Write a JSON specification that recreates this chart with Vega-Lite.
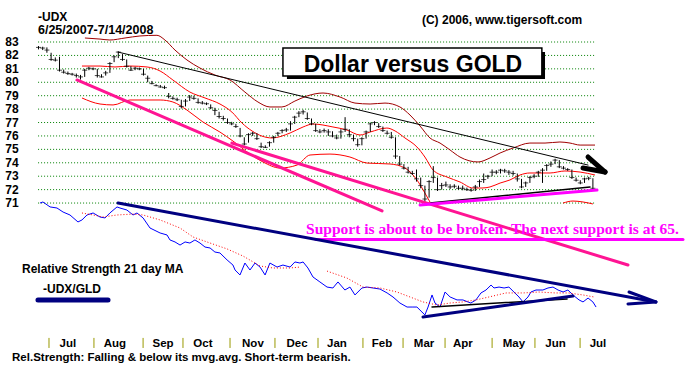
{
"$schema":"https://vega.github.io/schema/vega-lite/v6.json",
"width":696,"height":365,"padding":0,
"autosize":{"type":"fit","contains":"padding"},
"background":"white",
"config":{"view":{"stroke":null}},
"datasets":{
"grid":[{"p":71},{"p":72},{"p":73},{"p":74},{"p":75},{"p":76},{"p":77},{"p":78},{"p":79},{"p":80},{"p":81},{"p":82},{"p":83}],
"rects":[{"d":118.3,"d2":241.2,"p":82.25,"p2":80.24,"kind":"shadow"},{"d":116.4,"d2":239.7,"p":82.55,"p2":80.47,"kind":"box"}],
"bands":[
{"band":"upper","d":22.1,"p":83.30},{"band":"upper","d":29.3,"p":83.22},{"band":"upper","d":34.0,"p":83.15},{"band":"upper","d":41.2,"p":83.30},{"band":"upper","d":48.3,"p":83.45},{"band":"upper","d":56.4,"p":83.5},{"band":"upper","d":60.2,"p":83.15},{"band":"upper","d":65.0,"p":82.40},{"band":"upper","d":70.7,"p":81.66},{"band":"upper","d":76.9,"p":81.06},{"band":"upper","d":84.0,"p":80.54},{"band":"upper","d":91.2,"p":80.17},{"band":"upper","d":98.3,"p":79.27},{"band":"upper","d":104.5,"p":78.53},{"band":"upper","d":110.2,"p":78.16},{"band":"upper","d":115.9,"p":78.16},{"band":"upper","d":122.1,"p":78.60},{"band":"upper","d":127.9,"p":78.98},{"band":"upper","d":135.5,"p":79.20},{"band":"upper","d":143.6,"p":78.90},{"band":"upper","d":150.7,"p":78.45},{"band":"upper","d":157.9,"p":78.38},{"band":"upper","d":165.0,"p":78.45},{"band":"upper","d":172.1,"p":78.16},{"band":"upper","d":176.9,"p":77.56},{"band":"upper","d":181.7,"p":76.74},{"band":"upper","d":186.4,"p":75.85},{"band":"upper","d":191.2,"p":75.47},{"band":"upper","d":196.0,"p":74.95},{"band":"upper","d":200.7,"p":74.43},{"band":"upper","d":209.3,"p":74.06},{"band":"upper","d":215.0,"p":74.36},{"band":"upper","d":219.8,"p":74.73},{"band":"upper","d":226.0,"p":75.10},{"band":"upper","d":234.0,"p":75.47},{"band":"upper","d":241.2,"p":75.47},{"band":"upper","d":248.3,"p":75.55},{"band":"upper","d":253.1,"p":75.47},{"band":"upper","d":257.9,"p":75.32},{"band":"upper","d":265.0,"p":75.32},
{"band":"mid","d":20.7,"p":81.21},{"band":"mid","d":29.3,"p":81.21},{"band":"mid","d":36.4,"p":81.14},{"band":"mid","d":43.6,"p":81.21},{"band":"mid","d":51.7,"p":81.14},{"band":"mid","d":57.9,"p":80.84},{"band":"mid","d":64.0,"p":80.17},{"band":"mid","d":72.1,"p":79.27},{"band":"mid","d":79.3,"p":78.83},{"band":"mid","d":86.4,"p":78.38},{"band":"mid","d":92.1,"p":77.78},{"band":"mid","d":96.9,"p":76.96},{"band":"mid","d":101.7,"p":76.37},{"band":"mid","d":106.4,"p":75.99},{"band":"mid","d":111.2,"p":75.85},{"band":"mid","d":119.8,"p":76.22},{"band":"mid","d":126.0,"p":76.67},{"band":"mid","d":130.7,"p":76.89},{"band":"mid","d":140.2,"p":76.67},{"band":"mid","d":146.9,"p":76.44},{"band":"mid","d":153.1,"p":76.07},{"band":"mid","d":157.9,"p":76.29},{"band":"mid","d":165.9,"p":76.59},{"band":"mid","d":169.8,"p":76.37},{"band":"mid","d":174.5,"p":75.85},{"band":"mid","d":180.2,"p":75.18},{"band":"mid","d":184.0,"p":74.43},{"band":"mid","d":187.9,"p":73.46},{"band":"mid","d":194.5,"p":72.94},{"band":"mid","d":200.7,"p":72.57},{"band":"mid","d":206.9,"p":72.12},{"band":"mid","d":211.2,"p":72.12},{"band":"mid","d":215.0,"p":72.20},{"band":"mid","d":219.8,"p":72.49},{"band":"mid","d":224.5,"p":72.72},{"band":"mid","d":229.3,"p":73.09},{"band":"mid","d":234.0,"p":73.24},{"band":"mid","d":243.6,"p":73.24},{"band":"mid","d":250.7,"p":73.39},{"band":"mid","d":257.9,"p":73.31},{"band":"mid","d":265.0,"p":73.09},
{"band":"lower","d":20.7,"p":78.83},{"band":"lower","d":29.3,"p":78.38},{"band":"lower","d":35.5,"p":78.31},{"band":"lower","d":43.6,"p":78.68},{"band":"lower","d":51.7,"p":78.68},{"band":"lower","d":57.9,"p":78.68},{"band":"lower","d":64.0,"p":78.53},{"band":"lower","d":70.7,"p":77.93},{"band":"lower","d":78.3,"p":77.04},{"band":"lower","d":86.4,"p":76.29},{"band":"lower","d":92.6,"p":75.62},{"band":"lower","d":100.7,"p":74.65},{"band":"lower","d":106.9,"p":74.06},{"band":"lower","d":115.0,"p":73.61},{"band":"lower","d":123.1,"p":73.83},{"band":"lower","d":129.3,"p":74.58},{"band":"lower","d":138.8,"p":74.65},{"band":"lower","d":148.3,"p":74.43},{"band":"lower","d":156.4,"p":73.98},{"band":"lower","d":167.4,"p":73.91},{"band":"lower","d":174.5,"p":73.61},{"band":"lower","d":180.2,"p":72.72},{"band":"lower","d":184.0,"p":71.75},{"band":"lower","d":186.4,"p":71.08},
{"band":"lower2","d":249.8,"p":71.00},{"band":"lower2","d":254.5,"p":71.15},{"band":"lower2","d":259.3,"p":71.08},{"band":"lower2","d":264.0,"p":70.93}
],
"price":[
{"d":0,"c":82.6,"h":82.7,"l":82.45},{"d":2,"c":82.55,"h":82.65,"l":82.4},{"d":4,"c":82.4,"h":82.6,"l":82.2},{"d":6,"c":81.7,"h":82.2,"l":81.6},{"d":8,"c":81.65,"h":81.85,"l":81.55},{"d":10,"c":80.9,"h":81.9,"l":80.8},{"d":12,"c":80.75,"h":80.95,"l":80.65},{"d":14,"c":80.65,"h":80.8,"l":80.55},{"d":16,"c":80.6,"h":80.7,"l":80.5},{"d":18,"c":80.5,"h":80.65,"l":80.35},{"d":20,"c":80.4,"h":80.55,"l":80.2},{"d":22,"c":80.9,"h":81.0,"l":80.4},{"d":24,"c":81.05,"h":81.15,"l":80.9},{"d":26,"c":81.0,"h":81.1,"l":80.9},{"d":28,"c":80.5,"h":81.0,"l":80.35},{"d":30,"c":80.4,"h":80.6,"l":80.35},{"d":32,"c":80.7,"h":80.85,"l":80.5},{"d":34,"c":81.4,"h":81.5,"l":80.7},{"d":36,"c":81.9,"h":82.0,"l":81.5},{"d":38,"c":82.25,"h":82.3,"l":81.8},{"d":40,"c":81.7,"h":82.1,"l":81.6},{"d":42,"c":81.2,"h":81.7,"l":81.1},{"d":44,"c":80.9,"h":81.2,"l":80.85},{"d":46,"c":81.05,"h":81.15,"l":80.9},{"d":48,"c":81.0,"h":81.1,"l":80.9},{"d":50,"c":80.6,"h":81.0,"l":80.5},{"d":52,"c":80.3,"h":80.5,"l":80.0},{"d":54,"c":79.9,"h":80.1,"l":79.85},{"d":56,"c":79.75,"h":79.85,"l":79.7},{"d":58,"c":79.65,"h":79.8,"l":79.6},{"d":60,"c":79.6,"h":79.75,"l":79.5},{"d":62,"c":78.95,"h":79.2,"l":78.8},{"d":64,"c":78.8,"h":78.95,"l":78.7},{"d":66,"c":78.7,"h":78.85,"l":78.6},{"d":68,"c":78.2,"h":78.7,"l":78.05},{"d":70,"c":78.6,"h":78.75,"l":78.2},{"d":72,"c":78.9,"h":79.05,"l":78.6},{"d":74,"c":78.8,"h":79.0,"l":78.7},{"d":76,"c":78.5,"h":78.8,"l":78.4},{"d":78,"c":78.45,"h":78.6,"l":78.35},{"d":80,"c":78.4,"h":78.5,"l":78.3},{"d":82,"c":78.1,"h":78.35,"l":78.0},{"d":84,"c":77.9,"h":78.1,"l":77.55},{"d":86,"c":77.45,"h":77.8,"l":77.3},{"d":88,"c":77.3,"h":77.5,"l":77.15},{"d":90,"c":77.0,"h":77.3,"l":76.9},{"d":92,"c":76.9,"h":77.05,"l":76.8},{"d":94,"c":76.7,"h":76.9,"l":76.6},{"d":96,"c":76.0,"h":76.6,"l":75.9},{"d":98,"c":75.4,"h":75.9,"l":75.3},{"d":100,"c":76.1,"h":76.2,"l":75.5},{"d":102,"c":76.2,"h":76.3,"l":76.0},{"d":104,"c":75.8,"h":76.2,"l":75.7},{"d":106,"c":75.2,"h":75.5,"l":75.1},{"d":108,"c":75.15,"h":75.3,"l":75.1},{"d":110,"c":75.5,"h":75.6,"l":75.2},{"d":112,"c":75.9,"h":76.0,"l":75.5},{"d":114,"c":76.2,"h":76.3,"l":76.0},{"d":116,"c":76.4,"h":76.5,"l":76.2},{"d":118,"c":76.45,"h":76.6,"l":76.3},{"d":120,"c":76.9,"h":77.1,"l":76.4},{"d":122,"c":77.4,"h":77.5,"l":76.9},{"d":124,"c":77.7,"h":77.85,"l":77.4},{"d":126,"c":77.8,"h":77.95,"l":77.6},{"d":128,"c":77.3,"h":77.75,"l":77.2},{"d":130,"c":76.9,"h":77.3,"l":76.8},{"d":132,"c":76.4,"h":76.9,"l":76.3},{"d":134,"c":76.3,"h":76.5,"l":76.2},{"d":136,"c":76.4,"h":76.55,"l":76.25},{"d":138,"c":76.3,"h":76.5,"l":76.0},{"d":140,"c":76.0,"h":76.35,"l":75.9},{"d":142,"c":75.85,"h":76.1,"l":75.75},{"d":144,"c":76.3,"h":76.5,"l":75.8},{"d":146,"c":76.5,"h":77.4,"l":76.3},{"d":148,"c":76.1,"h":76.5,"l":75.9},{"d":150,"c":75.8,"h":76.1,"l":75.6},{"d":152,"c":75.35,"h":75.8,"l":75.2},{"d":154,"c":75.8,"h":75.9,"l":75.3},{"d":156,"c":76.3,"h":76.4,"l":75.8},{"d":158,"c":76.9,"h":77.0,"l":76.3},{"d":160,"c":77.0,"h":77.1,"l":76.8},{"d":162,"c":76.7,"h":76.95,"l":76.6},{"d":164,"c":76.4,"h":76.7,"l":76.3},{"d":166,"c":76.2,"h":76.4,"l":76.1},{"d":168,"c":75.9,"h":76.3,"l":75.8},{"d":170,"c":74.5,"h":75.9,"l":74.3},{"d":172,"c":73.9,"h":74.5,"l":73.8},{"d":174,"c":73.6,"h":73.9,"l":73.5},{"d":176,"c":73.3,"h":73.7,"l":73.2},{"d":178,"c":73.2,"h":73.4,"l":73.1},{"d":180,"c":72.8,"h":73.5,"l":72.6},{"d":182,"c":72.3,"h":72.9,"l":72.1},{"d":184,"c":71.3,"h":72.3,"l":71.1},{"d":186,"c":72.6,"h":72.7,"l":71.4},{"d":188,"c":72.9,"h":73.75,"l":72.5},{"d":190,"c":72.0,"h":72.9,"l":71.9},{"d":192,"c":72.3,"h":72.5,"l":72.0},{"d":194,"c":72.35,"h":72.6,"l":72.2},{"d":196,"c":72.2,"h":72.4,"l":72.05},{"d":198,"c":72.25,"h":72.4,"l":72.1},{"d":200,"c":72.1,"h":72.3,"l":72.0},{"d":202,"c":72.1,"h":72.3,"l":71.95},{"d":204,"c":72.0,"h":72.15,"l":71.9},{"d":206,"c":71.95,"h":72.1,"l":71.85},{"d":208,"c":72.2,"h":72.35,"l":71.9},{"d":210,"c":72.6,"h":72.75,"l":72.2},{"d":212,"c":72.75,"h":73.2,"l":72.5},{"d":214,"c":73.0,"h":73.1,"l":72.8},{"d":216,"c":73.3,"h":73.5,"l":73.0},{"d":218,"c":73.3,"h":73.45,"l":73.15},{"d":220,"c":73.45,"h":73.55,"l":73.2},{"d":222,"c":73.4,"h":73.55,"l":73.25},{"d":224,"c":73.3,"h":73.45,"l":73.1},{"d":226,"c":73.2,"h":73.4,"l":73.05},{"d":228,"c":72.8,"h":73.2,"l":72.6},{"d":230,"c":72.2,"h":72.8,"l":72.1},{"d":232,"c":72.5,"h":72.6,"l":72.2},{"d":234,"c":72.9,"h":73.0,"l":72.5},{"d":236,"c":73.0,"h":73.15,"l":72.85},{"d":238,"c":73.3,"h":73.4,"l":72.95},{"d":240,"c":73.45,"h":73.6,"l":72.5},{"d":242,"c":73.8,"h":73.9,"l":73.4},{"d":244,"c":73.9,"h":74.1,"l":73.7},{"d":246,"c":74.2,"h":74.3,"l":73.9},{"d":248,"c":73.7,"h":74.2,"l":73.6},{"d":250,"c":73.6,"h":73.75,"l":73.5},{"d":252,"c":73.5,"h":73.6,"l":73.4},{"d":254,"c":72.9,"h":73.5,"l":72.8},{"d":256,"c":72.7,"h":72.9,"l":72.6},{"d":258,"c":72.5,"h":72.7,"l":72.4},{"d":260,"c":72.8,"h":72.9,"l":72.5},{"d":262,"c":72.85,"h":72.95,"l":72.7},{"d":264,"c":72.1,"h":72.85,"l":72.0}
],
"lines":[
{"kind":"black","d":37.9,"p":82.25,"d2":261.7,"p2":73.83},
{"kind":"blackarrow","d":261.7,"p":74.43,"d2":269.8,"p2":73.31},
{"kind":"blackarrow","d":259.3,"p":73.61,"d2":269.8,"p2":73.31},
{"kind":"pink","d":18.3,"p":80.17,"d2":163.6,"p2":70.41},
{"kind":"pink","d":92.1,"p":75.47,"d2":280.7,"p2":66.38},
{"kind":"thinblack","d":186.4,"p":71.0,"d2":262.6,"p2":72.2},
{"kind":"magenta","d":181.7,"p":70.85,"d2":265.95,"p2":71.97},
{"kind":"magenta","d":132.1,"p":68.28,"d2":306.9,"p2":68.28},
{"kind":"thinblack","d":187.4,"p":63.26,"d2":251.7,"p2":63.85},
{"kind":"navy","d":37.9,"p":71.0,"d2":294.0,"p2":63.63},
{"kind":"navy","d":281.2,"p":64.37,"d2":294.0,"p2":63.63},
{"kind":"navy","d":280.7,"p":63.48,"d2":294.0,"p2":63.63},
{"kind":"navy","d":183.1,"p":62.51,"d2":254.5,"p2":64.07},
{"kind":"navyleg","d":-0.24,"p":63.78,"d2":33.1,"p2":63.78}
],
"rs":[
{"d":0.7,"p":71.00},{"d":2.1,"p":71.08},{"d":5.5,"p":70.71},{"d":8.8,"p":70.63},{"d":11.7,"p":70.33},{"d":15.0,"p":70.11},{"d":18.8,"p":69.59},{"d":20.7,"p":69.74},{"d":23.1,"p":70.11},{"d":26.0,"p":70.26},{"d":29.3,"p":69.96},{"d":31.7,"p":69.89},{"d":34.0,"p":70.26},{"d":37.4,"p":70.71},{"d":38.8,"p":70.63},{"d":42.1,"p":70.48},{"d":45.0,"p":70.11},{"d":46.9,"p":70.26},{"d":49.8,"p":69.89},{"d":53.1,"p":69.14},{"d":57.9,"p":68.77},{"d":61.2,"p":68.62},{"d":62.6,"p":68.25},{"d":65.0,"p":68.10},{"d":67.4,"p":67.87},{"d":69.8,"p":68.10},{"d":72.1,"p":68.02},{"d":74.5,"p":68.25},{"d":76.9,"p":68.02},{"d":79.3,"p":67.72},{"d":81.7,"p":67.65},{"d":84.0,"p":67.35},{"d":86.4,"p":67.28},{"d":89.8,"p":66.76},{"d":92.6,"p":66.38},{"d":93.6,"p":66.01},{"d":95.95,"p":65.64},{"d":98.3,"p":66.53},{"d":100.7,"p":66.01},{"d":103.1,"p":66.53},{"d":105.5,"p":66.23},{"d":107.9,"p":65.64},{"d":110.2,"p":66.53},{"d":113.6,"p":66.23},{"d":116.4,"p":66.38},{"d":119.8,"p":66.23},{"d":122.1,"p":66.61},{"d":124.5,"p":66.53},{"d":126.0,"p":66.61},{"d":128.3,"p":66.16},{"d":130.7,"p":65.49},{"d":134.0,"p":65.12},{"d":137.4,"p":64.74},{"d":140.2,"p":64.67},{"d":142.6,"p":65.12},{"d":145.9,"p":64.52},{"d":148.3,"p":64.74},{"d":150.7,"p":64.15},{"d":154.0,"p":64.67},{"d":156.4,"p":64.74},{"d":159.3,"p":64.67},{"d":162.6,"p":64.59},{"d":166.0,"p":64.30},{"d":168.8,"p":64.00},{"d":172.1,"p":63.55},{"d":175.5,"p":63.25},{"d":177.9,"p":63.25},{"d":180.2,"p":63.25},{"d":182.6,"p":62.88},{"d":184.0,"p":62.66},{"d":185.5,"p":63.25},{"d":187.4,"p":64.15},{"d":188.8,"p":63.55},{"d":191.2,"p":63.25},{"d":193.6,"p":64.37},{"d":196.0,"p":64.00},{"d":199.3,"p":63.78},{"d":202.1,"p":63.78},{"d":204.5,"p":63.63},{"d":205.9,"p":63.55},{"d":208.3,"p":63.78},{"d":210.7,"p":64.30},{"d":213.1,"p":64.52},{"d":215.5,"p":64.89},{"d":216.9,"p":64.67},{"d":219.3,"p":64.74},{"d":221.7,"p":64.67},{"d":224.0,"p":64.74},{"d":226.4,"p":64.37},{"d":228.8,"p":64.00},{"d":230.7,"p":63.63},{"d":233.1,"p":64.00},{"d":234.5,"p":64.37},{"d":236.9,"p":64.52},{"d":240.2,"p":64.52},{"d":242.6,"p":64.67},{"d":245.0,"p":64.74},{"d":247.4,"p":64.52},{"d":249.8,"p":64.37},{"d":252.1,"p":64.52},{"d":254.5,"p":64.15},{"d":257.4,"p":63.78},{"d":259.3,"p":63.63},{"d":261.7,"p":63.92},{"d":264.0,"p":63.63},{"d":265.5,"p":63.25}
],
"rsma":[
{"seg":1,"d":20.7,"p":70.26},{"seg":1,"d":26.0,"p":70.11},{"seg":1,"d":30.7,"p":69.96},{"seg":1,"d":37.4,"p":70.11},{"seg":1,"d":45.0,"p":70.18},{"seg":1,"d":49.8,"p":70.11},{"seg":1,"d":57.9,"p":69.74},{"seg":1,"d":67.4,"p":69.14},{"seg":1,"d":73.6,"p":68.47},{"seg":1,"d":81.7,"p":68.02},{"seg":1,"d":89.8,"p":67.58},{"seg":1,"d":97.4,"p":67.05},{"seg":1,"d":105.5,"p":66.31},{"seg":1,"d":111.7,"p":66.16},{"seg":1,"d":119.8,"p":66.16},{"seg":1,"d":124.5,"p":66.23},
{"seg":2,"d":137.4,"p":65.93},{"seg":2,"d":146.9,"p":65.41},{"seg":2,"d":154.5,"p":64.74},{"seg":2,"d":162.6,"p":64.67},{"seg":2,"d":170.7,"p":64.37},{"seg":2,"d":176.9,"p":64.00},{"seg":2,"d":183.1,"p":63.63},{"seg":2,"d":189.8,"p":63.40},{"seg":2,"d":196.0,"p":63.55},{"seg":2,"d":202.1,"p":63.63},{"seg":2,"d":208.3,"p":63.78},{"seg":2,"d":214.5,"p":64.00},{"seg":2,"d":222.6,"p":64.30},{"seg":2,"d":230.7,"p":64.30},{"seg":2,"d":238.3,"p":64.37},{"seg":2,"d":246.2,"p":64.30},{"seg":2,"d":252.4,"p":64.30},{"seg":2,"d":259.3,"p":64.15},{"seg":2,"d":264.5,"p":64.00}
],
"texts":[
{"d":-0.24,"p":84.60,"t":"-UDX"},
{"d":182.6,"p":84.34,"t":"(C) 2006, www.tigersoft.com"},
{"d":-7.86,"p":65.79,"t":"Relative Strength 21 day MA"},
{"d":2.14,"p":64.30,"t":"-UDX/GLD"}
],
"months":[{"d":14.0,"m":"Jul"},{"d":36.4,"m":"Aug"},{"d":59.3,"m":"Sep"},{"d":78.3,"m":"Oct"},{"d":102.1,"m":"Nov"},{"d":123.1,"m":"Dec"},{"d":142.1,"m":"Jan"},{"d":163.6,"m":"Feb"},{"d":183.6,"m":"Mar"},{"d":202.1,"m":"Apr"},{"d":226.4,"m":"May"},{"d":246.2,"m":"Jun"},{"d":266.4,"m":"Jul"}],
"mticks":[{"d":5.0},{"d":26.4},{"d":49.8},{"d":68.8},{"d":91.2},{"d":112.6},{"d":133.1},{"d":154.5},{"d":173.6},{"d":193.6},{"d":216.0},{"d":236.4},{"d":257.9}]
},
"layer":[
{"data":{"name":"grid"},"mark":{"type":"rule","color":"#008000","strokeDash":[1,2],"strokeWidth":1},
 "encoding":{"x":{"datum":-0.2,"type":"quantitative","scale":{"domain":[-18.333,313.095],"nice":false,"zero":false},"axis":null},"x2":{"datum":265.5},
  "y":{"field":"p","type":"quantitative","scale":{"domain":[58.931,86.131],"nice":false,"zero":false},"axis":null}}},
{"data":{"name":"grid"},"mark":{"type":"text","font":"Liberation Sans","fontWeight":"bold","fontSize":12,"align":"center","baseline":"middle","color":"#000000"},
 "encoding":{"x":{"datum":-12.6,"type":"quantitative"},"y":{"field":"p","type":"quantitative"},"text":{"field":"p","type":"quantitative"}}},
{"data":{"name":"rects"},"transform":[{"filter":"datum.kind==='shadow'"}],"mark":{"type":"rect","fill":"#000000"},
 "encoding":{"x":{"field":"d","type":"quantitative"},"x2":{"field":"d2"},"y":{"field":"p","type":"quantitative"},"y2":{"field":"p2"}}},
{"data":{"name":"rects"},"transform":[{"filter":"datum.kind==='box'"}],"mark":{"type":"rect","fill":"#ffffff","stroke":"#000000","strokeWidth":1.5},
 "encoding":{"x":{"field":"d","type":"quantitative"},"x2":{"field":"d2"},"y":{"field":"p","type":"quantitative"},"y2":{"field":"p2"}}},
{"data":{"values":[{"d":178.3,"p":80.77,"t":"Dollar versus GOLD"}]},"mark":{"type":"text","font":"Liberation Sans","fontWeight":"bold","fontSize":23,"align":"center","baseline":"alphabetic","color":"#000000"},
 "encoding":{"x":{"field":"d","type":"quantitative"},"y":{"field":"p","type":"quantitative"},"text":{"field":"t"}}},
{"data":{"name":"bands"},"transform":[{"filter":"datum.band==='upper'"}],"mark":{"type":"line","strokeWidth":1,"interpolate":"monotone","color":"#a00000"},
 "encoding":{"x":{"field":"d","type":"quantitative"},"y":{"field":"p","type":"quantitative"}}},
{"data":{"name":"bands"},"transform":[{"filter":"datum.band!=='upper'"}],"mark":{"type":"line","strokeWidth":1,"interpolate":"monotone","color":"#ff0000"},
 "encoding":{"x":{"field":"d","type":"quantitative"},"y":{"field":"p","type":"quantitative"},"detail":{"field":"band"}}},
{"data":{"name":"price"},"mark":{"type":"rule","color":"#000000","strokeWidth":1},
 "encoding":{"x":{"field":"d","type":"quantitative"},"y":{"field":"l","type":"quantitative"},"y2":{"field":"h"}}},
{"data":{"name":"price"},"mark":{"type":"tick","orient":"horizontal","color":"#000000","size":5,"thickness":1},
 "encoding":{"x":{"field":"d","type":"quantitative"},"y":{"field":"c","type":"quantitative"}}},
{"data":{"name":"rs"},"mark":{"type":"line","color":"#0000ff","strokeWidth":1},
 "encoding":{"x":{"field":"d","type":"quantitative"},"y":{"field":"p","type":"quantitative"}}},
{"data":{"name":"rsma"},"mark":{"type":"line","color":"#ff0000","strokeWidth":1,"strokeDash":[1,2]},
 "encoding":{"x":{"field":"d","type":"quantitative"},"y":{"field":"p","type":"quantitative"},"detail":{"field":"seg"}}},
{"data":{"name":"lines"},"transform":[{"filter":"datum.kind==='black'"}],"mark":{"type":"rule","strokeCap":"round","color":"#000000","strokeWidth":1},
 "encoding":{"x":{"field":"d","type":"quantitative"},"x2":{"field":"d2"},"y":{"field":"p","type":"quantitative"},"y2":{"field":"p2"}}},
{"data":{"name":"lines"},"transform":[{"filter":"datum.kind==='thinblack'"}],"mark":{"type":"rule","strokeCap":"round","color":"#000000","strokeWidth":1.5},
 "encoding":{"x":{"field":"d","type":"quantitative"},"x2":{"field":"d2"},"y":{"field":"p","type":"quantitative"},"y2":{"field":"p2"}}},
{"data":{"name":"lines"},"transform":[{"filter":"datum.kind==='blackarrow'"}],"mark":{"type":"rule","strokeCap":"round","color":"#000000","strokeWidth":5},
 "encoding":{"x":{"field":"d","type":"quantitative"},"x2":{"field":"d2"},"y":{"field":"p","type":"quantitative"},"y2":{"field":"p2"}}},
{"data":{"name":"lines"},"transform":[{"filter":"datum.kind==='pink'"}],"mark":{"type":"rule","strokeCap":"round","color":"#ff1493","strokeWidth":3},
 "encoding":{"x":{"field":"d","type":"quantitative"},"x2":{"field":"d2"},"y":{"field":"p","type":"quantitative"},"y2":{"field":"p2"}}},
{"data":{"name":"lines"},"transform":[{"filter":"datum.kind==='magenta'"}],"mark":{"type":"rule","strokeCap":"round","color":"#ff00ff","strokeWidth":3},
 "encoding":{"x":{"field":"d","type":"quantitative"},"x2":{"field":"d2"},"y":{"field":"p","type":"quantitative"},"y2":{"field":"p2"}}},
{"data":{"name":"lines"},"transform":[{"filter":"datum.kind==='navy'"}],"mark":{"type":"rule","strokeCap":"round","color":"#000080","strokeWidth":3},
 "encoding":{"x":{"field":"d","type":"quantitative"},"x2":{"field":"d2"},"y":{"field":"p","type":"quantitative"},"y2":{"field":"p2"}}},
{"data":{"name":"lines"},"transform":[{"filter":"datum.kind==='navyleg'"}],"mark":{"type":"rule","strokeCap":"round","color":"#000080","strokeWidth":5},
 "encoding":{"x":{"field":"d","type":"quantitative"},"x2":{"field":"d2"},"y":{"field":"p","type":"quantitative"},"y2":{"field":"p2"}}},
{"data":{"name":"texts"},"mark":{"type":"text","font":"Liberation Sans","fontWeight":"bold","fontSize":12,"align":"left","baseline":"alphabetic","color":"#000000"},
 "encoding":{"x":{"field":"d","type":"quantitative"},"y":{"field":"p","type":"quantitative"},"text":{"field":"t"}}},
{"data":{"values":[{"d":-0.24,"p":83.60,"t":"6/25/2007-7/14/2008"}]},"mark":{"type":"text","font":"Liberation Sans","fontWeight":"bold","fontSize":12.5,"align":"left","baseline":"alphabetic","color":"#000000"},
 "encoding":{"x":{"field":"d","type":"quantitative"},"y":{"field":"p","type":"quantitative"},"text":{"field":"t"}}},
{"data":{"values":[{"d":-12.6,"p":59.23,"t":"Rel.Strength: Falling & below its mvg.avg. Short-term bearish."}]},"mark":{"type":"text","font":"Liberation Sans","fontWeight":"bold","fontSize":11.5,"align":"left","baseline":"alphabetic","color":"#000000"},
 "encoding":{"x":{"field":"d","type":"quantitative"},"y":{"field":"p","type":"quantitative"},"text":{"field":"t"}}},
{"data":{"values":[{"d":127.4,"p":68.69,"t":"Support is about to be broken.  The next support is at 65."}]},"mark":{"type":"text","font":"Liberation Serif","fontWeight":"bold","fontSize":15.5,"align":"left","baseline":"alphabetic","color":"#ff00ff"},
 "encoding":{"x":{"field":"d","type":"quantitative"},"y":{"field":"p","type":"quantitative"},"text":{"field":"t"}}},
{"data":{"name":"mticks"},"mark":{"type":"rule","color":"#999900","strokeWidth":1},
 "encoding":{"x":{"field":"d","type":"quantitative"},"y":{"datum":60.95,"type":"quantitative"},"y2":{"datum":60.20}}},
{"data":{"name":"months"},"mark":{"type":"text","font":"Liberation Sans","fontWeight":"bold","fontSize":11.5,"align":"center","baseline":"alphabetic","color":"#000000"},
 "encoding":{"x":{"field":"d","type":"quantitative"},"y":{"datum":60.27,"type":"quantitative"},"text":{"field":"m"}}}
]
}
